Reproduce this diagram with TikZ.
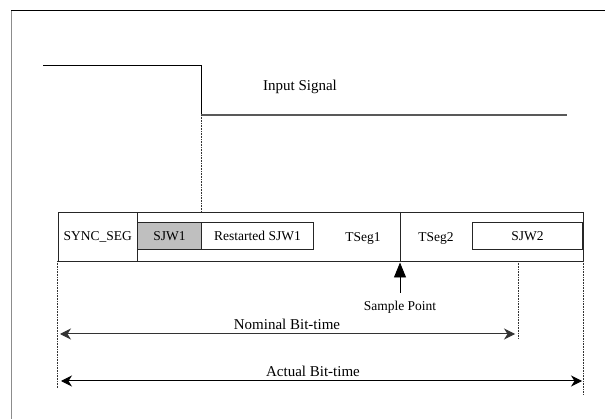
\documentclass[tikz,border=0pt]{standalone}
\usepackage{fontspec}
\setmainfont{Liberation Serif}
\usetikzlibrary{arrows.meta}
\begin{document}
\begin{tikzpicture}[x=1pt,y=-1pt,
  box/.style={draw=black!85, line width=0.9pt, inner sep=0pt, anchor=north west, font=\fontsize{13.5}{13.5}\selectfont},
  lbl/.style={font=\fontsize{13.5}{13.5}\selectfont, inner sep=0pt},
  big/.style={font=\fontsize{15}{15}\selectfont, inner sep=0pt},
  guide/.style={densely dotted, line width=0.6pt, black!80},
  dim/.style={line width=1pt, {Stealth[length=11pt,width=11pt,inset=3.5pt]}-{Stealth[length=11pt,width=11pt,inset=3.5pt]}}]
\useasboundingbox (0,0) rectangle (605,419);
\fill[white] (0,0) rectangle (605,419);
% frame
\coordinate (fTR) at (605,11);
\coordinate (fTL) at (11,11);
\coordinate (fBL) at (11,419);
\draw[line width=1pt] (fTR) -- (fTL);
\draw[line width=1pt, black!45] (fTL) -- (fBL);
% input signal
\coordinate (s0) at (43,66);
\coordinate (s1) at (201,66);
\coordinate (s2) at (201,115);
\coordinate (s3) at (567,115);
\draw[line width=1pt] (s0) -- (s1) -- (s2);
\draw[line width=1.3pt, black!65] (s2) -- (s3);
\node[big] (insig) at (300,87) {Input Signal};
% bit box
\node[box, minimum width=525pt, minimum height=49pt] (bit) at (57.5,212) {};
\node[box, minimum width=79.5pt, minimum height=49pt] (sync) at (57.5,212) {SYNC\_SEG};
\node[box, fill=black!25, minimum width=64pt, minimum height=27pt] (sjw1) at (137,222) {SJW1};
\node[box, minimum width=112pt, minimum height=27pt] (rsjw) at (201,222) {Restarted SJW1};
\node[box, minimum width=110pt, minimum height=27pt] (sjw2) at (472,222) {SJW2};
\coordinate (spT) at (400,212);
\coordinate (spB) at (400,261);
\draw[line width=0.9pt, black!85] (spT) -- (spB);
\node[lbl] (ts1) at (363,238) {TSeg1};
\node[lbl] (ts2) at (436,238) {TSeg2};
% sample point
\coordinate (spA) at (400,293);
\draw[line width=0.9pt, -{Triangle[length=15pt,width=12pt]}] (spA) -- (400,262.5);
\node[lbl] (spl) at (400,307) {Sample Point};
% guides
\coordinate (g1) at (201,212);
\draw[guide] (s2) -- (g1);
\coordinate (gL0) at (57.5,261);
\coordinate (gL1) at (57.5,388);
\draw[guide] (gL0) -- (gL1);
\coordinate (gN0) at (518,261);
\coordinate (gN1) at (518,338);
\draw[guide] (gN0) -- (gN1);
\coordinate (gA0) at (583,261);
\coordinate (gA1) at (583,395);
\draw[guide] (gA0) -- (gA1);
% dimensions
\coordinate (n0) at (60,334);
\coordinate (n1) at (515,334);
\draw[dim, black!80] (n0) -- (n1);
\node[big] (nom) at (287,324) {Nominal Bit-time};
\coordinate (a0) at (61,381);
\coordinate (a1) at (582,381);
\draw[dim] (a0) -- (a1);
\node[big] (act) at (313,371) {Actual Bit-time};
\end{tikzpicture}
\end{document}
